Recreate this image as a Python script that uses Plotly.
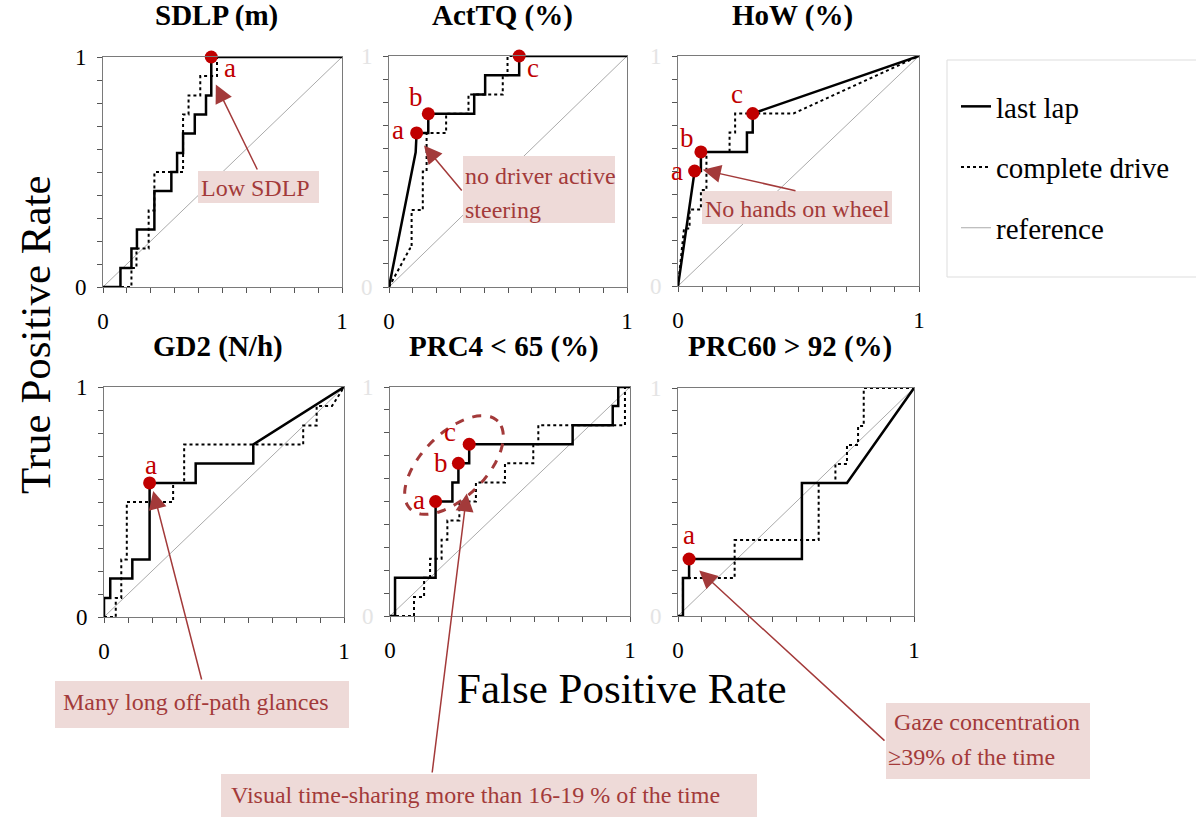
import math
import plotly.graph_objects as go

W, H = 1196, 817

# ---------------- data ----------------
titles = ["SDLP (m)", "ActTQ (%)", "HoW (%)", "GD2 (N/h)", "PRC4 < 65 (%)", "PRC60 > 92 (%)"]

sdlp_last_fpr = [0, 0.073, 0.073, 0.119, 0.119, 0.142, 0.142, 0.215, 0.215, 0.286, 0.286, 0.31, 0.31, 0.335, 0.335, 0.384, 0.384, 0.431, 0.431, 0.453, 0.453, 1]
sdlp_last_tpr = [0, 0, 0.083, 0.083, 0.167, 0.167, 0.25, 0.25, 0.417, 0.417, 0.5, 0.5, 0.583, 0.583, 0.667, 0.667, 0.75, 0.75, 0.833, 0.833, 1, 1]
sdlp_full_fpr = [0, 0.119, 0.119, 0.14, 0.14, 0.191, 0.191, 0.215, 0.215, 0.335, 0.335, 0.358, 0.358, 0.407, 0.407, 0.477, 0.477, 1]
sdlp_full_tpr = [0, 0, 0.083, 0.083, 0.167, 0.167, 0.333, 0.333, 0.5, 0.5, 0.75, 0.75, 0.833, 0.833, 0.917, 0.917, 1, 1]

acttq_last_fpr = [0, 0.112, 0.116, 0.165, 0.165, 0.358, 0.358, 0.404, 0.404, 0.547, 0.547, 1]
acttq_last_tpr = [0, 0.583, 0.667, 0.667, 0.75, 0.75, 0.833, 0.833, 0.917, 0.917, 1, 1]
acttq_full_fpr = [0, 0.088, 0.095, 0.095, 0.142, 0.142, 0.158, 0.158, 0.24, 0.24, 0.334, 0.334, 0.478, 0.478, 0.498, 0.498, 1]
acttq_full_tpr = [0, 0.167, 0.167, 0.333, 0.333, 0.5, 0.5, 0.667, 0.667, 0.75, 0.75, 0.833, 0.833, 0.917, 0.917, 1, 1]

how_last_fpr = [0, 0.069, 0.095, 0.095, 0.286, 0.286, 0.31, 0.31, 1]
how_last_tpr = [0, 0.5, 0.5, 0.583, 0.583, 0.667, 0.667, 0.75, 1]
how_full_fpr = [0, 0.025, 0.048, 0.048, 0.095, 0.095, 0.118, 0.118, 0.214, 0.214, 0.237, 0.237, 0.479, 1]
how_full_tpr = [0, 0.25, 0.25, 0.333, 0.333, 0.417, 0.417, 0.583, 0.583, 0.667, 0.667, 0.75, 0.75, 1]

gd2_last_fpr = [0, 0, 0.026, 0.026, 0.118, 0.118, 0.19, 0.19, 0.382, 0.382, 0.622, 0.622, 1]
gd2_last_tpr = [0, 0.083, 0.083, 0.167, 0.167, 0.25, 0.25, 0.583, 0.583, 0.667, 0.667, 0.75, 1]
gd2_full_fpr = [0, 0.049, 0.049, 0.072, 0.072, 0.095, 0.095, 0.288, 0.288, 0.334, 0.334, 0.83, 0.83, 0.886, 0.886, 0.95, 1]
gd2_full_tpr = [0, 0, 0.083, 0.083, 0.25, 0.25, 0.5, 0.5, 0.583, 0.583, 0.75, 0.75, 0.833, 0.833, 0.917, 0.917, 1]

prc4_last_fpr = [0, 0.021, 0.021, 0.19, 0.19, 0.26, 0.26, 0.285, 0.285, 0.33, 0.33, 0.761, 0.761, 0.928, 0.928, 0.951, 0.951, 1]
prc4_last_tpr = [0, 0, 0.167, 0.167, 0.5, 0.5, 0.583, 0.583, 0.667, 0.667, 0.75, 0.75, 0.833, 0.833, 0.917, 0.917, 1, 1]
prc4_full_fpr = [0, 0.1, 0.1, 0.142, 0.142, 0.167, 0.167, 0.215, 0.215, 0.239, 0.239, 0.289, 0.289, 0.358, 0.358, 0.479, 0.479, 0.597, 0.597, 0.618, 0.618, 0.979, 0.979, 1]
prc4_full_tpr = [0, 0, 0.083, 0.083, 0.167, 0.167, 0.25, 0.25, 0.333, 0.333, 0.417, 0.417, 0.5, 0.5, 0.583, 0.583, 0.667, 0.667, 0.75, 0.75, 0.833, 0.833, 1, 1]

prc60_last_fpr = [0, 0.021, 0.021, 0.047, 0.047, 0.525, 0.525, 0.716, 1]
prc60_last_tpr = [0, 0, 0.167, 0.167, 0.25, 0.25, 0.583, 0.583, 1]
prc60_full_fpr = [0, 0.021, 0.021, 0.24, 0.24, 0.596, 0.596, 0.667, 0.667, 0.716, 0.716, 0.763, 0.763, 0.787, 0.787, 1]
prc60_full_tpr = [0, 0, 0.167, 0.167, 0.333, 0.333, 0.583, 0.583, 0.667, 0.667, 0.75, 0.75, 0.833, 0.833, 1, 1]

ref_fpr = [0, 1]
ref_tpr = [0, 1]

# cut-off points (panel index, label, fpr, tpr, label shift px)
cut_panel = [0, 1, 1, 1, 2, 2, 2, 3, 4, 4, 4, 5]
cut_label = ["a", "a", "b", "c", "a", "b", "c", "a", "a", "b", "c", "a"]
cut_fpr = [0.453, 0.116, 0.165, 0.547, 0.069, 0.095, 0.31, 0.19, 0.19, 0.285, 0.33, 0.047]
cut_tpr = [1.0, 0.667, 0.75, 1.0, 0.5, 0.583, 0.75, 0.583, 0.5, 0.667, 0.75, 0.25]
cut_dx = [19, -19, -12, 14, -18, -14, -16, 1, -17, -17, -19, 0]
cut_dy = [-11, 3, 17, -12, 0, 14, 19, 18, 1, 0, 12, 24]

note_lines = [["Low SDLP"], ["no driver active", "steering"], ["No hands on wheel"],
              ["Many long off-path glances"], ["Visual time-sharing more than 16-19 % of the time"],
              [" Gaze concentration", "≥39% of the time"]]

panels = [
    (sdlp_last_fpr, sdlp_last_tpr, sdlp_full_fpr, sdlp_full_tpr),
    (acttq_last_fpr, acttq_last_tpr, acttq_full_fpr, acttq_full_tpr),
    (how_last_fpr, how_last_tpr, how_full_fpr, how_full_tpr),
    (gd2_last_fpr, gd2_last_tpr, gd2_full_fpr, gd2_full_tpr),
    (prc4_last_fpr, prc4_last_tpr, prc4_full_fpr, prc4_full_tpr),
    (prc60_last_fpr, prc60_last_tpr, prc60_full_fpr, prc60_full_tpr),
]

# ---------------- layout helpers ----------------
def fx(px):
    return px / W

def fy(py):
    return 1 - py / H

boxes = [(103, 342, 57, 287), (389, 627, 56, 287), (678, 919, 56, 286),
         (104, 344, 387, 617), (390, 630, 387, 616), (678, 914, 388, 616)]

FONT = "Liberation Serif"
RED = "#c00000"
NOTE = "#a33a3a"
NOTE_BG = "#eedad8"

fig = go.Figure()
layout = dict(width=W, height=H, margin=dict(l=0, r=0, t=0, b=0, pad=0, autoexpand=False),
              paper_bgcolor="white", plot_bgcolor="white",
              font=dict(family=FONT, color="black"))

tickvals = [i / 10 for i in range(11)]
ticktext = ["0"] + [""] * 9 + ["1"]

for i, (l, r, t, b) in enumerate(boxes):
    n = "" if i == 0 else str(i + 1)
    faint = i in (1, 2, 4, 5)
    axcommon = dict(range=[0, 1], showgrid=False, zeroline=False, showline=True,
                    linecolor="#7a7a7a", linewidth=1, mirror=True, ticks="outside",
                    ticklen=5, tickcolor="#555", tickwidth=1, tickvals=tickvals,
                    ticktext=ticktext, fixedrange=True, automargin=False)
    layout["xaxis" + n] = dict(axcommon, domain=[fx(l), fx(r)], anchor="y" + n,
                               tickfont=dict(size=23, family=FONT, color="black"),
                               ticklabelstandoff=8)
    layout["yaxis" + n] = dict(axcommon, domain=[fy(b), fy(t)], anchor="x" + n,
                               tickfont=dict(size=23, family=FONT,
                                             color="#e4e4e4" if faint else "black"),
                               ticklabelstandoff=6)

    xa, ya = "x" + n, "y" + n
    lf, lt, ff, ft = panels[i]
    fig.add_trace(go.Scatter(x=ref_fpr, y=ref_tpr, mode="lines", xaxis=xa, yaxis=ya,
                             line=dict(color="#aaaaaa", width=1), name="reference",
                             legendgroup="c", showlegend=(i == 0), legendrank=3))
    fig.add_trace(go.Scatter(x=ff, y=ft, mode="lines", xaxis=xa, yaxis=ya,
                             line=dict(color="black", width=2, dash="dot"), name="complete drive",
                             legendgroup="b", showlegend=(i == 0), legendrank=2))
    fig.add_trace(go.Scatter(x=lf, y=lt, mode="lines", xaxis=xa, yaxis=ya,
                             line=dict(color="black", width=2.5), name="last lap",
                             legendgroup="a", showlegend=(i == 0), legendrank=1))

for i in range(6):
    n = "" if i == 0 else str(i + 1)
    xs = [cut_fpr[k] for k in range(len(cut_panel)) if cut_panel[k] == i]
    ys = [cut_tpr[k] for k in range(len(cut_panel)) if cut_panel[k] == i]
    fig.add_trace(go.Scatter(x=xs, y=ys, mode="markers", xaxis="x" + n, yaxis="y" + n,
                             marker=dict(color=RED, size=13), showlegend=False,
                             cliponaxis=False))

annotations = []
shapes = []

for i, (l, r, t, b) in enumerate(boxes):
    annotations.append(dict(text="<b>%s</b>" % titles[i], x=fx((l + r) / 2 - 6), y=fy(t - 41),
                            xref="paper", yref="paper", showarrow=False,
                            font=dict(size=29, family=FONT, color="black"),
                            xanchor="center", yanchor="middle"))

for k in range(len(cut_panel)):
    n = "" if cut_panel[k] == 0 else str(cut_panel[k] + 1)
    annotations.append(dict(text=cut_label[k], x=cut_fpr[k], y=cut_tpr[k],
                            xref="x" + n, yref="y" + n, showarrow=False,
                            xshift=cut_dx[k], yshift=cut_dy[k],
                            xanchor="center", yanchor="middle",
                            font=dict(size=27, family=FONT, color=RED)))

annotations.append(dict(text="True Positive Rate", x=fx(35), y=fy(335), xref="paper", yref="paper",
                        showarrow=False, textangle=-90, xanchor="center", yanchor="middle",
                        font=dict(size=43, family=FONT, color="black")))
annotations.append(dict(text="False Positive Rate", x=fx(622), y=fy(688), xref="paper", yref="paper",
                        showarrow=False, xanchor="center", yanchor="middle",
                        font=dict(size=43, family=FONT, color="black")))

note_box = [(198, 319, 171, 203), (463, 615, 156, 223), (702, 892, 191, 224),
            (55, 349, 681, 728), (221, 757, 774, 817), (886, 1090, 703, 779)]
note_text_pos = [[(199, 188)], [(463, 176), (463, 210)], [(703, 209)],
                 [(61, 702)], [(229, 795)], [(886, 722), (886, 757)]]
note_tip_panel = [0, 1, 2, 3, 4, 5]
note_tip_fpr = [0.472, 0.147, 0.103, 0.205, 0.32, 0.09]
note_tip_tpr = [0.88, 0.613, 0.505, 0.548, 0.535, 0.2]
note_tail = [(258, 171), (463, 192), (797, 191), (202, 681), (432, 774), (886, 742)]

for k in range(6):
    l, r, t, b = note_box[k]
    shapes.append(dict(type="rect", xref="paper", yref="paper", x0=fx(l), x1=fx(r),
                       y0=fy(b), y1=fy(t), fillcolor=NOTE_BG, line=dict(width=0), layer="above"))
    for line, (tx, ty) in zip(note_lines[k], note_text_pos[k]):
        annotations.append(dict(text=line, x=fx(tx), y=fy(ty), xref="paper", yref="paper",
                                showarrow=False, xanchor="left", yanchor="middle",
                                font=dict(size=24, family=FONT, color=NOTE)))

for k in range(6):
    p = note_tip_panel[k]
    n = "" if p == 0 else str(p + 1)
    l, r, t, b = boxes[p]
    tip_px = l + note_tip_fpr[k] * (r - l)
    tip_py = b - note_tip_tpr[k] * (b - t)
    tx, ty = note_tail[k]
    annotations.append(dict(text="", x=note_tip_fpr[k], y=note_tip_tpr[k], xref="x" + n, yref="y" + n,
                            showarrow=True, axref="pixel", ayref="pixel",
                            ax=tx - tip_px, ay=ty - tip_py, arrowhead=2, arrowsize=2.4,
                            arrowwidth=1.5, arrowcolor=NOTE, standoff=0, startstandoff=0))

ell_cx, ell_cy, ell_a, ell_b, ell_ang = 454, 465, 62, 32, 45
pts = []
for j in range(73):
    th = 2 * math.pi * j / 72
    ex = ell_a * math.cos(th)
    ey = ell_b * math.sin(th)
    ca, sa = math.cos(math.radians(ell_ang)), math.sin(math.radians(ell_ang))
    px = ell_cx + ex * ca - ey * sa
    py = ell_cy - (ex * sa + ey * ca)
    pts.append((fx(px), fy(py)))
path = "M " + " L ".join("%.5f,%.5f" % p for p in pts) + " Z"
shapes.append(dict(type="path", path=path, xref="paper", yref="paper",
                   line=dict(color=NOTE, width=3, dash="dash"), layer="above"))

shapes.append(dict(type="rect", xref="paper", yref="paper", x0=fx(947), x1=fx(1200),
                   y0=fy(277), y1=fy(60), line=dict(color="#dddddd", width=1),
                   fillcolor="rgba(0,0,0,0)", layer="below"))

layout["annotations"] = annotations
layout["shapes"] = shapes
layout["showlegend"] = True
layout["legend"] = dict(x=fx(956), y=fy(81), xanchor="left", yanchor="top",
                        font=dict(size=29, family=FONT, color="black"),
                        bgcolor="rgba(0,0,0,0)", borderwidth=0, itemwidth=30,
                        traceorder="grouped", tracegroupgap=20)

fig.update_layout(**layout)
fig.write_html("out.html", config={"displayModeBar": False},
               post_script="document.body.style.margin='0px';document.body.style.overflow='hidden';")
